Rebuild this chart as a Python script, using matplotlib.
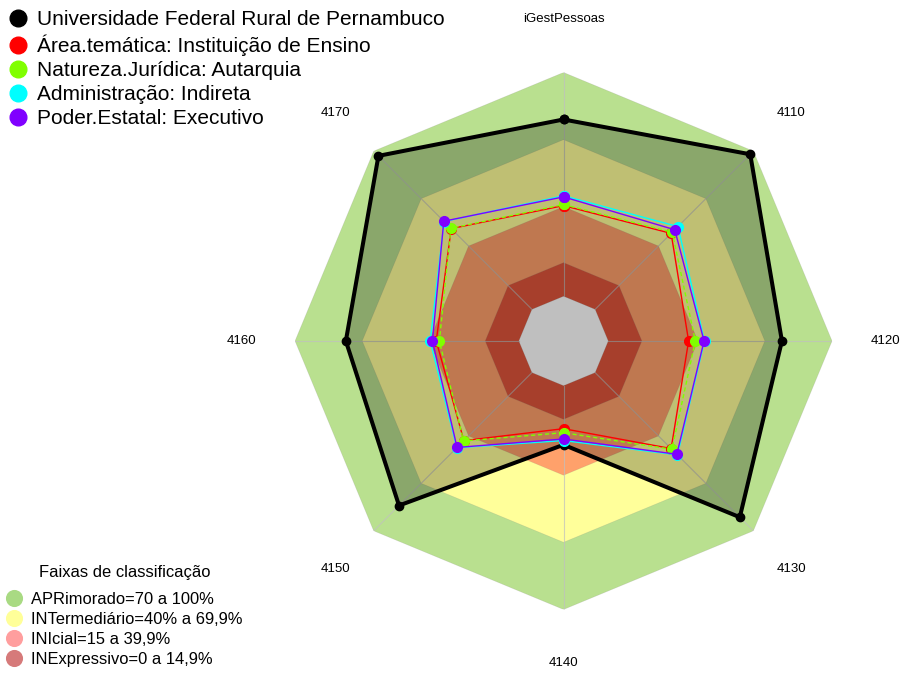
import numpy as np
import matplotlib.pyplot as plt
from matplotlib.lines import Line2D

plt.rcParams['font.family'] = ['Liberation Sans', 'DejaVu Sans']

# axes of the radar, clockwise from the top
labels = ['iGestPessoas', '4110', '4120', '4130', '4140', '4150', '4160', '4170']

# series values in percent
ufrpe = [79.0, 98.0, 77.6, 91.4, 26.4, 84.0, 77.3, 97.0]
area = [40.5, 48.0, 35.9, 48.0, 19.2, 43.0, 36.9, 51.0]
natureza = [41.0, 48.7, 38.9, 48.5, 21.0, 43.2, 35.5, 51.2]
administracao = [44.9, 52.3, 43.0, 52.0, 24.5, 47.5, 39.6, 55.5]
poder = [44.4, 50.3, 42.8, 51.6, 23.8, 47.3, 38.6, 55.7]

series_names = ['Universidade Federal Rural de Pernambuco',
                'Área.temática: Instituição de Ensino',
                'Natureza.Jurídica: Autarquia',
                'Administração: Indireta',
                'Poder.Estatal: Executivo']
series_colors = ['black', '#FF0000', '#80FF00', '#00FFFF', '#8000FF']

# classification bands (upper limit of each band)
band_limits = [100, 70, 40, 15]
band_colors = ['#B9E08F', '#FFFF9A', '#FFA16B', '#E0553B']
band_names = ['APRimorado=70 a 100%', 'INTermediário=40% a 69,9%',
              'INIcial=15 a 39,9%', 'INExpressivo=0 a 14,9%']
band_legend_colors = ['#A9DA83', '#FFFF99', '#FF9E9E', '#D67A7A']

n = len(labels)
theta = np.linspace(0, 2 * np.pi, n, endpoint=False)
theta_c = np.append(theta, theta[0])


def closed(vals):
    return np.append(vals, vals[0])


fig = plt.figure(figsize=(9.05, 6.73), dpi=100)
ax = fig.add_axes([0.326, 0.0944, 0.5934, 0.7979], projection='polar')
ax.set_theta_zero_location('N')
ax.set_theta_direction(-1)
ax.set_ylim(-20, 100)
ax.axis('off')

# bands
for lim, col in zip(band_limits, band_colors):
    ax.fill(theta_c, [lim] * (n + 1), color=col, lw=0, zorder=1)
    ax.plot(theta_c, [lim] * (n + 1), color='grey', lw=0.5, alpha=0.2, zorder=2)
ax.fill(theta_c, [0] * (n + 1), color='white', lw=0, zorder=1)
ax.plot(theta_c, [0] * (n + 1), color='grey', lw=0.5, alpha=0.2, zorder=2)
for t in theta:
    ax.plot([t, t], [0, 100], color='#C0C0C0', lw=0.8, alpha=0.7, zorder=2)

# shaded area of the main series
ax.fill(theta_c, closed(ufrpe), color='black', alpha=0.25, lw=0, zorder=3)

styles = [('-', 2.9, 6), ('-', 1.0, 7), ((0, (3, 2)), 1.0, 7), ('-', 1.0, 7), ('-', 1.0, 7)]
for vals, col, (ls, lw, ms) in zip([ufrpe, area, natureza, administracao, poder], series_colors, styles):
    ax.plot(theta_c, closed(vals), color=col, ls=ls, lw=lw, marker='o', ms=ms,
            clip_on=False, zorder=4)

for t, lab in zip(theta, labels):
    ax.text(t, 124, lab, ha='center', va='center', fontsize=9.5)

h1 = [Line2D([], [], ls='none', marker='o', ms=12, color=c) for c in series_colors]
fig.legend(h1, series_names, loc='upper left', bbox_to_anchor=(0.0084, 0.985),
           frameon=False, fontsize=15, handlelength=1.0, handletextpad=0.4,
           labelspacing=0.25, borderpad=0, borderaxespad=0)

h2 = [Line2D([], [], ls='none', marker='o', ms=11.3, color=c) for c in band_legend_colors]
fig.legend(h2, band_names, loc='lower left',
           bbox_to_anchor=(0.0066, 0.009), frameon=False, fontsize=11.9,
           handlelength=1.0, handletextpad=0.5,
           labelspacing=0.31, borderpad=0, borderaxespad=0)
fig.text(124.5 / 905, 1 - 572 / 673, 'Faixas de classificação', ha='center', va='center',
         fontsize=11.9)

fig.savefig('out.png', dpi=100)
